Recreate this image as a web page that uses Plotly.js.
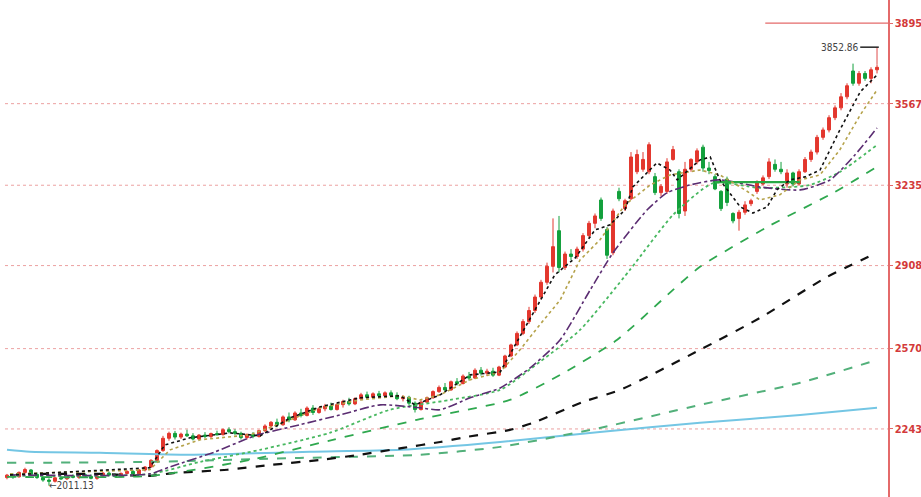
<!DOCTYPE html>
<html>
<head>
<meta charset="utf-8">
<script src="https://cdn.plot.ly/plotly-3.0.1.min.js"></script>
<style>html,body{margin:0;padding:0;background:#fff;}#chart{width:921px;height:497px;}</style>
</head>
<body>
<div id="chart"></div>
<script>
// ---- Candles ----
const opens  = [2045,2055,2048,2066,2076,2058,2045,2035,2030,2044,2040,2052,2046,2057,2050,2042,2052,2063,2055,2049,2062,2070,2060,2076,2088,2115,2155,2205,2225,2210,2222,2215,2202,2218,2212,2224,2220,2240,2232,2225,2208,2220,2212,2236,2255,2270,2260,2292,2280,2308,2298,2328,2310,2325,2336,2322,2342,2355,2345,2366,2382,2372,2386,2378,2390,2380,2366,2372,2348,2322,2352,2370,2395,2412,2402,2435,2428,2458,2450,2482,2470,2478,2462,2495,2540,2585,2632,2680,2725,2780,2840,2905,3050,2900,2955,2945,2975,3030,3080,3175,3055,2960,3210,3140,3180,3290,3300,3290,3270,3205,3210,3340,3290,3130,3300,3330,3390,3305,3270,3210,3260,3120,3100,3125,3160,3210,3240,3270,3320,3300,3240,3285,3240,3290,3340,3370,3430,3460,3510,3550,3595,3700,3650,3690,3670,3705];
const highs  = [2060,2062,2070,2085,2080,2066,2052,2042,2048,2050,2055,2058,2060,2064,2058,2055,2068,2070,2062,2066,2075,2076,2080,2092,2120,2160,2215,2232,2235,2228,2240,2226,2222,2230,2228,2236,2245,2250,2242,2232,2225,2230,2240,2262,2275,2285,2298,2310,2315,2325,2335,2340,2332,2345,2350,2348,2362,2370,2372,2390,2395,2392,2398,2396,2400,2392,2380,2378,2355,2360,2375,2400,2420,2430,2440,2450,2465,2475,2490,2495,2488,2492,2500,2545,2590,2640,2690,2740,2790,2850,2920,3100,3110,2965,2975,2985,3040,3090,3120,3185,3065,3140,3225,3180,3370,3380,3370,3410,3285,3240,3345,3395,3300,3330,3345,3385,3400,3330,3280,3215,3270,3125,3135,3170,3180,3255,3275,3345,3340,3330,3300,3290,3300,3350,3380,3440,3470,3520,3560,3610,3650,3730,3700,3700,3715,3725];
const lows   = [2038,2040,2045,2060,2052,2040,2028,2012,2025,2036,2035,2042,2040,2047,2038,2036,2048,2050,2045,2046,2058,2055,2056,2070,2085,2110,2150,2195,2200,2202,2210,2196,2198,2205,2206,2215,2216,2225,2218,2200,2200,2205,2208,2230,2245,2250,2256,2270,2276,2290,2294,2300,2305,2315,2318,2318,2330,2338,2340,2360,2365,2368,2370,2372,2375,2360,2355,2340,2310,2318,2348,2366,2390,2395,2398,2420,2424,2440,2446,2460,2458,2455,2458,2490,2535,2580,2625,2670,2715,2770,2830,2880,2880,2890,2930,2935,2965,3020,3060,3090,2935,2950,3170,3130,3175,3280,3290,3280,3195,3190,3200,3335,3100,3110,3290,3320,3290,3280,3215,3130,3150,3080,3050,3115,3150,3200,3235,3260,3290,3280,3225,3230,3235,3285,3330,3360,3420,3450,3500,3540,3585,3640,3640,3660,3650,3690];
const closes = [2055,2048,2066,2078,2058,2045,2035,2030,2044,2040,2052,2046,2057,2050,2042,2052,2063,2055,2049,2062,2070,2060,2076,2088,2115,2155,2205,2225,2210,2222,2215,2202,2218,2212,2224,2220,2240,2232,2225,2208,2220,2212,2236,2255,2270,2260,2292,2280,2308,2298,2328,2310,2325,2336,2322,2342,2355,2345,2366,2382,2372,2386,2378,2390,2380,2366,2372,2348,2322,2352,2370,2395,2412,2402,2435,2428,2458,2450,2482,2470,2478,2462,2495,2540,2585,2632,2680,2725,2780,2840,2905,2985,2900,2955,2945,2975,3030,3080,3110,3100,2950,3130,3180,3172,3350,3360,3340,3400,3205,3230,3330,3380,3120,3300,3340,3375,3305,3295,3220,3140,3165,3090,3125,3155,3172,3245,3265,3330,3300,3290,3285,3240,3290,3340,3370,3430,3460,3510,3550,3595,3640,3650,3690,3670,3705,3715];

// ---- Moving-average lines (sparse readings: position index / value) ----
const ma5X   = [0.5,23.8,26.3,30.5,37.2,42.2,47.2,52.2,58.8,65.5,68,72.2,77.2,82.2,84.7,88,91.3,94.7,98,100.5,103,104.3,108.3,110.5,111.7,115.5,117.2,118.8,122.2,124.3,126.7,128.3,130.5,133,135.5,138.8,142.2,145];
const ma5Y   = [2056,2085,2178,2207,2227,2215,2288,2333,2370,2378,2341,2382,2463,2475,2585,2728,2870,2939,3053,3074,3135,3228,3326,3297,3257,3338,3350,3257,3147,3122,3147,3216,3257,3269,3297,3460,3615,3684];
const ma10X  = [0.5,23.8,27.2,32.2,40.5,47.2,52.2,58.8,65.5,68.8,72.2,77.2,82.2,85.5,88.8,92.2,95.5,98.8,103,107.2,110.5,115.5,118.8,123,125.5,128.8,132.2,135.5,138.8,142.2,145];
const ma10Y  = [2060,2077,2158,2199,2219,2280,2329,2361,2378,2361,2382,2443,2475,2565,2667,2768,2931,3012,3155,3236,3277,3297,3277,3216,3175,3196,3257,3277,3379,3521,3623];
const ma20X  = [0.5,23.8,27.2,34.7,41.3,48.8,55.5,62.2,68.8,72.2,77.2,82.2,87.2,92.2,97.2,101,106.7,110,113.8,118.8,125.5,132.2,137.2,141.3,145];
const ma20Y  = [2056,2060,2089,2150,2215,2260,2300,2341,2329,2321,2370,2410,2492,2606,2809,2960,3135,3204,3236,3257,3228,3216,3257,3358,3468];
const ma30X  = [0.5,23.8,32.2,42.2,53.8,63.8,73.8,82.2,88.8,95.5,103.8,111,117.7,125.5,133.8,138.8,145];
const ma30Y  = [2052,2060,2109,2158,2227,2321,2361,2402,2516,2646,2890,3114,3244,3224,3236,3289,3399];
const ma60X  = [0,23.8,40.5,54.3,68.3,83.8,92.2,101.7,111,115.5,126.7,137.7,145];
const ma60Y  = [2048,2052,2117,2199,2280,2361,2463,2606,2809,2903,3065,3204,3310];
const ma120X = [5.5,15.5,23.8,28,36.7,44.2,52.2,58.8,66,72.2,76.7,83.8,87.7,96,102.2,115.5,125.5,136.7,145];
const ma120Y = [2060,2060,2052,2064,2077,2097,2117,2138,2166,2190,2211,2239,2268,2353,2402,2565,2695,2862,2960];
const ma250X = [0,23.8,48.8,68.8,82.2,98.8,115.5,132.2,145];
const ma250Y = [2105,2109,2125,2138,2170,2247,2341,2431,2524];
const maBlueX = [0,3.8,15.5,30.5,50.5,65.5,82.2,98.8,115.5,132.2,145];
const maBlueY = [2158,2150,2146,2138,2150,2158,2190,2231,2268,2300,2329];
const flatX = [118,132.2];
const flatY = [3248,3248];

// ---- Axis ticks ----
const tickVals = [3895,3567,3235,2908,2570,2243];
const tickText = ["3895","3567","3235","2908","2570","2243"];
const gridVals = [3567,3235,2908,2570,2243];
const highLabel = "3852.86";
const lowLabel = "\u21902011.13";
const highIdx = 145, highVal = 3725, lowIdx = 7, lowVal = 2012;

const idx = closes.map((_, i) => i);

function ln(x, y, color, dash, width, shape) {
  return {type:'scatter', mode:'lines', x:x, y:y, hoverinfo:'skip', showlegend:false,
    line:{color:color, dash:dash, width:width, shape:shape||'spline', smoothing:0.6}};
}

const traces = [
  ln(maBlueX, maBlueY, '#74c6e4', 'solid', 2),
  ln(ma250X, ma250Y, '#52b07a', 'dash', 2),
  ln(ma120X, ma120Y, '#111111', 'dash', 2.2),
  ln(ma60X, ma60Y, '#2fa84f', 'dash', 1.8),
  ln(ma30X, ma30Y, '#48b860', 'dot', 1.8),
  ln(ma20X, ma20Y, '#5b2d72', 'dashdot', 1.6),
  ln(flatX, flatY, '#27a844', 'solid', 2.2, 'linear'),
  {type:'candlestick', x:idx, open:opens, high:highs, low:lows, close:closes,
   showlegend:false, hoverinfo:'skip', whiskerwidth:0,
   increasing:{line:{color:'#e3372e', width:1}, fillcolor:'#e3372e'},
   decreasing:{line:{color:'#13a03c', width:1}, fillcolor:'#13a03c'}},
  ln(ma10X, ma10Y, '#b5a24a', 'dot', 1.6, 'linear'),
  ln(ma5X, ma5Y, '#111111', 'dot', 1.6, 'linear')
];

const shapes = gridVals.map(v => ({type:'line', xref:'paper', x0:0, x1:1, yref:'y', y0:v, y1:v,
  line:{color:'rgba(226,110,110,0.65)', width:1, dash:'dot'}, layer:'below'}));
shapes.push({type:'line', xref:'paper', x0:0.861, x1:1, yref:'y', y0:3895, y1:3895,
  line:{color:'#e46a6a', width:1.2}, layer:'below'});
shapes.push({type:'line', xref:'x', x0:highIdx, x1:highIdx, yref:'y', y0:highVal, y1:3797,
  line:{color:'#e46a6a', width:1.2}});
shapes.push({type:'line', xref:'x', x0:142.2, x1:highIdx + 0.3, yref:'y', y0:3797, y1:3797,
  line:{color:'#222', width:1.5}});

const layout = {
  width:921, height:497,
  margin:{l:5, r:33, t:0, b:0},
  paper_bgcolor:'#ffffff', plot_bgcolor:'#ffffff',
  showlegend:false,
  xaxis:{range:[-0.33,146.83], visible:false, rangeslider:{visible:false}, fixedrange:true},
  yaxis:{range:[1966,3989], side:'right', showgrid:false, zeroline:false,
    tickvals:tickVals, ticktext:tickText, ticks:'outside', ticklen:3, tickcolor:'#e46a6a',
    showline:true, linecolor:'#e46a6a', linewidth:1.5,
    tickfont:{family:'"Liberation Sans Narrow","DejaVu Sans Condensed",sans-serif', size:11, color:'#d33a3a', weight:'bold'}},
  shapes:shapes,
  annotations:[
    {x:142.2, y:3797, xref:'x', yref:'y', text:highLabel, showarrow:false, xanchor:'right', yanchor:'middle',
     font:{family:'"Liberation Sans Narrow","DejaVu Sans Condensed",sans-serif', size:10, color:'#444'}},
    {x:lowIdx - 0.3, y:2012, xref:'x', yref:'y', text:lowLabel, showarrow:false, xanchor:'left', yanchor:'middle',
     font:{family:'"Liberation Sans Narrow","DejaVu Sans Condensed",sans-serif', size:10, color:'#444'}}
  ]
};

Plotly.newPlot('chart', traces, layout, {displayModeBar:false, staticPlot:true});
</script>
</body>
</html>
